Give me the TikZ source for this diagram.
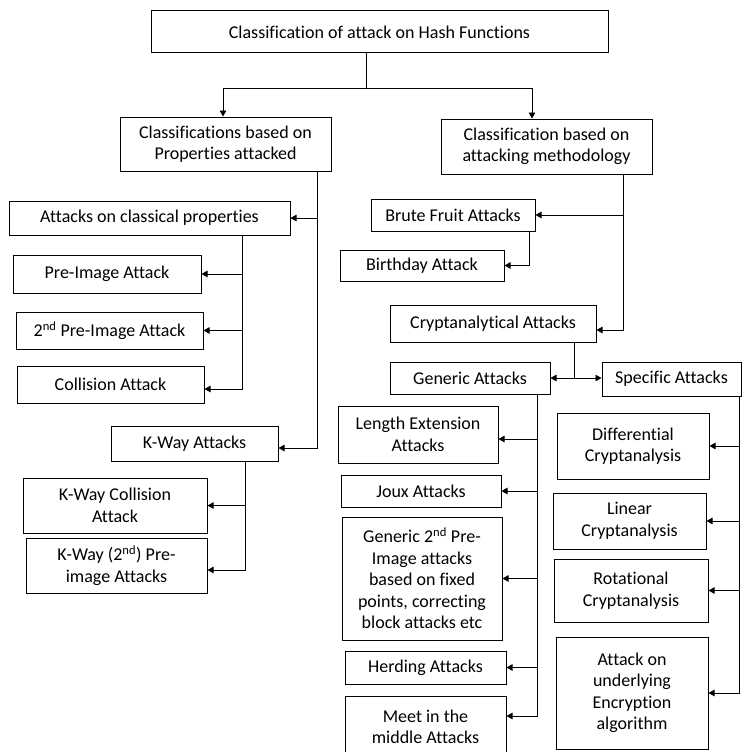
\documentclass[tikz,border=0pt]{standalone}
\usepackage{fontspec}
\setmainfont{Carlito}[Ligatures=NoCommon]
\usetikzlibrary{arrows.meta}

\begin{document}
\begin{tikzpicture}[x=1pt,y=-1pt,
    box/.style={draw,line width=1pt,inner sep=0pt,align=center,font=\fontsize{18}{21.5}\selectfont},
    ln/.style={line width=0.9pt},
    arr/.style={ln,-{Triangle[length=6pt,width=6.5pt]}}]
    \useasboundingbox (0,0) rectangle (745,752);
    \clip (0,0) rectangle (745,752);
    % boxes: name / left / top / right / bottom / text
    \foreach \n/\xa/\ya/\xb/\yb/\txt in {
        top/151/11/608/53/{Classification of attack on Hash Functions},
        prop/120/117/331/171/{Classifications based on\\Properties attacked},
        meth/441/119/652/174/{Classification based on\\attacking methodology},
        clas/9/201/290/235/{Attacks on classical properties},
        pre/13/255/201/293/{Pre-Image Attack},
        spre/16/312/203/349/{2\textsuperscript{nd} Pre-Image Attack},
        coll/17/366/204/403/{Collision Attack},
        kway/111/426/278/461/{K-Way Attacks},
        kcoll/23/478/207/533/{K-Way Collision\\Attack},
        kpre/26/538/207/593/{K-Way (2\textsuperscript{nd}) Pre-\\image Attacks},
        brute/371/199/535/231/{Brute Fruit Attacks},
        bday/340/250/504/281/{Birthday Attack},
        crypt/390/305/596/342/{Cryptanalytical Attacks},
        gen/390/362/550/394/{Generic Attacks},
        spec/602/362/741/396/{Specific Attacks},
        lext/338/406/498/463/{Length Extension\\Attacks},
        joux/341/475/501/507/{Joux Attacks},
        gsp/342/517/502/640/{Generic 2\textsuperscript{nd} Pre-\\Image attacks\\based on fixed\\points, correcting\\block attacks etc},
        herd/345/651/506/684/{Herding Attacks},
        meet/345/696/506/758/{Meet in the\\middle Attacks},
        diff/557/413/709/479/{Differential\\Cryptanalysis},
        lin/553/493/706/549/{Linear\\Cryptanalysis},
        rot/554/559/708/622/{Rotational\\Cryptanalysis},
        und/556/637/708/749/{Attack on\\underlying\\Encryption\\algorithm}}{
        \node[box,minimum width=\xb-\xa,minimum height=\yb-\ya] (\n) at ({(\xa+\xb)/2},{(\ya+\yb)/2}) {\txt};}
    % trunk positions
    \coordinate (jn) at (366,88);
    \coordinate (ja) at (532,0);
    \coordinate (tp) at (317,0);
    \coordinate (tm) at (623,0);
    \coordinate (tc) at (242,0);
    \coordinate (tk) at (245,0);
    \coordinate (tb) at (529,0);
    \coordinate (tx) at (574,0);
    \coordinate (tg) at (537,0);
    \coordinate (ts) at (739,0);
    % top level
    \draw[ln] (top.south -| jn) -- (jn);
    \draw[arr] (jn) -| ([xshift=-2.5pt]prop.north);
    \draw[arr] (jn) -| (meth.north -| ja);
    % properties attacked
    \draw[arr] (prop.south -| tp) |- ([yshift=-4.5pt]kway.east);
    \draw[arr] (clas.east -| tp) -- (clas.east);
    \draw[arr] (clas.south -| tc) |- ([yshift=-4.5pt]coll.east);
    \draw[arr] (pre.east -| tc) -- (pre.east);
    \draw[arr] (spre.east -| tc) -- (spre.east);
    \draw[arr] (kway.south -| tk) |- ([yshift=-4.5pt]kpre.east);
    \draw[arr] (kcoll.east -| tk) -- (kcoll.east);
    % attacking methodology
    \draw[arr] (meth.south -| tm) |- ([yshift=-6.5pt]crypt.east);
    \draw[arr] (brute.east -| tm) -- (brute.east);
    \draw[arr] (brute.south -| tb) |- (bday.east);
    \draw[ln] (crypt.south -| tx) -- (gen.east -| tx);
    \draw[arr] (gen.east -| tx) -- (gen.east);
    \draw[arr] (gen.east -| tx) -- (spec.west |- gen.east);
    % generic
    \draw[arr] (gen.south -| tg) |- ([yshift=11pt]meet.east);
    \draw[arr] ([yshift=-4.5pt]lext.east -| tg) -- ([yshift=-4.5pt]lext.east);
    \draw[arr] (joux.east -| tg) -- (joux.east);
    \draw[arr] (gsp.east -| tg) -- (gsp.east);
    \draw[arr] (herd.east -| tg) -- (herd.east);
    % specific
    \draw[arr] (spec.south -| ts) |- (und.east);
    \draw[arr] (diff.east -| ts) -- (diff.east);
    \draw[arr] (lin.east -| ts) -- (lin.east);
    \draw[arr] (rot.east -| ts) -- (rot.east);
\end{tikzpicture}
\end{document}
